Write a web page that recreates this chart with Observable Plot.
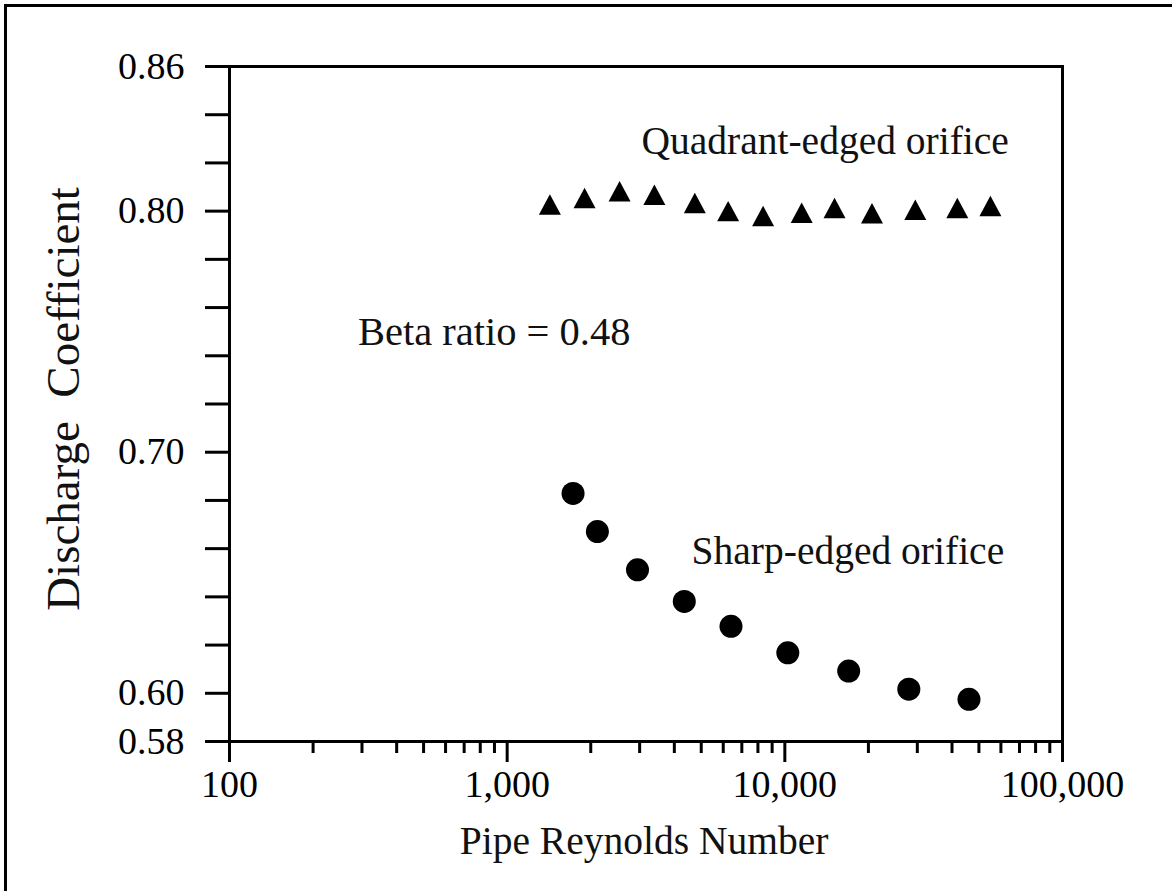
<!DOCTYPE html>
<html>
<head>
<meta charset="utf-8">
<script src="https://cdn.jsdelivr.net/npm/d3@7"></script>
<script src="https://cdn.jsdelivr.net/npm/@observablehq/plot@0.6"></script>
<style>
  html, body { margin: 0; padding: 0; background: #fff; overflow: hidden; }
  #page { position: relative; width: 1172px; height: 891px; }
  #edge { position: absolute; left: 4px; top: 4px; width: 1300px; height: 1000px;
          border-left: 3px solid #000; border-top: 3px solid #000; }
  #chart { position: absolute; left: 0; top: 0; }
</style>
</head>
<body>
<div id="page"><div id="edge"></div><div id="chart"></div></div>
<script>
// Quadrant-edged orifice (triangles)
const quadRe = [1425, 1900, 2540, 3390, 4740, 6250, 8350, 11500, 15100, 20600, 29500, 41800, 55000];
const quadCd = [0.8013, 0.8040, 0.8068, 0.8054, 0.8020, 0.7986, 0.7966, 0.7979, 0.7999, 0.7977, 0.7992, 0.7999, 0.8007];
// Sharp-edged orifice (circles)
const sharpRe = [1727, 2113, 2947, 4344, 6399, 10250, 16980, 27960, 46050];
const sharpCd = [0.6829, 0.6671, 0.6512, 0.6381, 0.6278, 0.6168, 0.6092, 0.6017, 0.5975];
// Axis ticks
const xMajor = [100, 1000, 10000, 100000];
const xMinor = [200, 300, 400, 500, 600, 700, 800, 900, 2000, 3000, 4000, 5000, 6000, 7000, 8000, 9000, 20000, 30000, 40000, 50000, 60000, 70000, 80000, 90000];
const yTicks = [0.58, 0.60, 0.62, 0.64, 0.66, 0.68, 0.70, 0.72, 0.74, 0.76, 0.78, 0.80, 0.82, 0.84, 0.86];
const yLabeled = [0.58, 0.60, 0.70, 0.80, 0.86];
// Texts
const xTitle = "Pipe Reynolds Number";
const yTitle = "Discharge\u00a0\u00a0Coefficient";
const notes = [
  {text: "Quadrant-edged orifice", re: 3046, cd: 0.8290, size: 39.5},
  {text: "Beta ratio = 0.48", re: 290, cd: 0.7500, size: 40.5},
  {text: "Sharp-edged orifice", re: 4616, cd: 0.6587, size: 39.5}
];

const quad = quadRe.map((r, i) => ({re: r, cd: quadCd[i]}));
const sharp = sharpRe.map((r, i) => ({re: r, cd: sharpCd[i]}));

// isosceles triangle: width 2r, height ~1.86r, centred on centroid
const triangle = {
  draw(context, size) {
    const r = Math.sqrt(size / Math.PI);
    const h = r * 1.86;
    context.moveTo(0, -2 * h / 3);
    context.lineTo(r, h / 3);
    context.lineTo(-r, h / 3);
    context.closePath();
  }
};

const FONT = "'Liberation Serif', 'Times New Roman', serif";

const chart = Plot.plot({
  width: 1172,
  height: 891,
  marginLeft: 229,
  marginRight: 110,
  marginTop: 66,
  marginBottom: 150,
  x: {type: "log", domain: [100, 100000]},
  y: {domain: [0.58, 0.86]},
  style: {fontFamily: FONT, fontSize: "38px", color: "#000", background: "transparent", overflow: "visible"},
  marks: [
    Plot.frame({stroke: "#000", strokeWidth: 3}),
    Plot.axisY({ticks: yTicks, tickSize: 24, tickPadding: 21, strokeWidth: 3,
      tickFormat: d => yLabeled.includes(d) ? d.toFixed(2) : "", label: null, fontSize: 38}),
    Plot.axisX({ticks: xMinor, tickSize: 12, strokeWidth: 3, tickFormat: () => "", label: null}),
    Plot.axisX({ticks: xMajor, tickSize: 21, tickPadding: 8, strokeWidth: 3,
      tickFormat: d3.format(","), label: null, fontSize: 38}),
    Plot.dot(quad, {x: "re", y: "cd", symbol: triangle, r: 11, fill: "#000", stroke: null}),
    Plot.dot(sharp, {x: "re", y: "cd", r: 11.5, fill: "#000", stroke: null}),
    ...notes.map(n => Plot.text([n], {x: "re", y: "cd", text: "text", textAnchor: "start", lineAnchor: "middle", fontSize: n.size, fill: "#111"})),
    Plot.text([xTitle], {frameAnchor: "bottom", dx: -2, dy: 112, lineAnchor: "bottom", textAnchor: "middle", fontSize: 39.5, fill: "#111"}),
    Plot.text([yTitle], {frameAnchor: "left", rotate: -90, dx: -151, dy: -5, lineAnchor: "bottom", textAnchor: "middle", fontSize: 47, fill: "#111"})
  ]
});
document.getElementById("chart").appendChild(chart);
</script>
</body>
</html>
